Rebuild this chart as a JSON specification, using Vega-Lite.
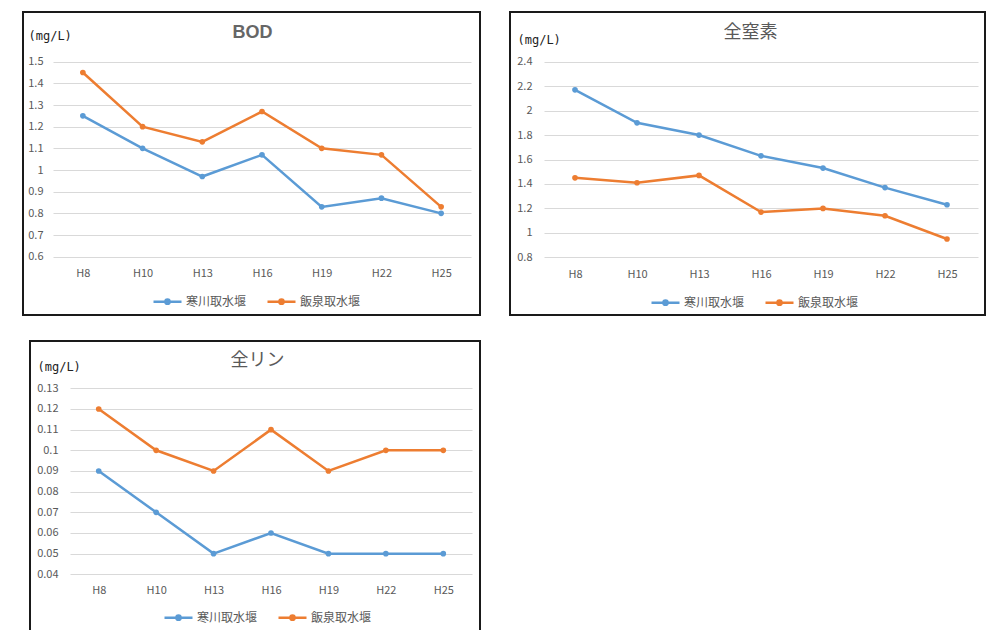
{
  "$schema": "https://vega.github.io/schema/vega-lite/v6.json",
  "background": "white",
  "padding": {"left": 22, "top": 11, "right": 0, "bottom": 0},
  "data": {
    "values": [
      {"item": "BOD", "year": "H8", "site": "寒川取水堰", "value": 1.25},
      {"item": "BOD", "year": "H10", "site": "寒川取水堰", "value": 1.10},
      {"item": "BOD", "year": "H13", "site": "寒川取水堰", "value": 0.97},
      {"item": "BOD", "year": "H16", "site": "寒川取水堰", "value": 1.07},
      {"item": "BOD", "year": "H19", "site": "寒川取水堰", "value": 0.83},
      {"item": "BOD", "year": "H22", "site": "寒川取水堰", "value": 0.87},
      {"item": "BOD", "year": "H25", "site": "寒川取水堰", "value": 0.80},
      {"item": "BOD", "year": "H8", "site": "飯泉取水堰", "value": 1.45},
      {"item": "BOD", "year": "H10", "site": "飯泉取水堰", "value": 1.20},
      {"item": "BOD", "year": "H13", "site": "飯泉取水堰", "value": 1.13},
      {"item": "BOD", "year": "H16", "site": "飯泉取水堰", "value": 1.27},
      {"item": "BOD", "year": "H19", "site": "飯泉取水堰", "value": 1.10},
      {"item": "BOD", "year": "H22", "site": "飯泉取水堰", "value": 1.07},
      {"item": "BOD", "year": "H25", "site": "飯泉取水堰", "value": 0.83},
      {"item": "全窒素", "year": "H8", "site": "寒川取水堰", "value": 2.17},
      {"item": "全窒素", "year": "H10", "site": "寒川取水堰", "value": 1.90},
      {"item": "全窒素", "year": "H13", "site": "寒川取水堰", "value": 1.80},
      {"item": "全窒素", "year": "H16", "site": "寒川取水堰", "value": 1.63},
      {"item": "全窒素", "year": "H19", "site": "寒川取水堰", "value": 1.53},
      {"item": "全窒素", "year": "H22", "site": "寒川取水堰", "value": 1.37},
      {"item": "全窒素", "year": "H25", "site": "寒川取水堰", "value": 1.23},
      {"item": "全窒素", "year": "H8", "site": "飯泉取水堰", "value": 1.45},
      {"item": "全窒素", "year": "H10", "site": "飯泉取水堰", "value": 1.41},
      {"item": "全窒素", "year": "H13", "site": "飯泉取水堰", "value": 1.47},
      {"item": "全窒素", "year": "H16", "site": "飯泉取水堰", "value": 1.17},
      {"item": "全窒素", "year": "H19", "site": "飯泉取水堰", "value": 1.20},
      {"item": "全窒素", "year": "H22", "site": "飯泉取水堰", "value": 1.14},
      {"item": "全窒素", "year": "H25", "site": "飯泉取水堰", "value": 0.95},
      {"item": "全リン", "year": "H8", "site": "寒川取水堰", "value": 0.09},
      {"item": "全リン", "year": "H10", "site": "寒川取水堰", "value": 0.07},
      {"item": "全リン", "year": "H13", "site": "寒川取水堰", "value": 0.05},
      {"item": "全リン", "year": "H16", "site": "寒川取水堰", "value": 0.06},
      {"item": "全リン", "year": "H19", "site": "寒川取水堰", "value": 0.05},
      {"item": "全リン", "year": "H22", "site": "寒川取水堰", "value": 0.05},
      {"item": "全リン", "year": "H25", "site": "寒川取水堰", "value": 0.05},
      {"item": "全リン", "year": "H8", "site": "飯泉取水堰", "value": 0.12},
      {"item": "全リン", "year": "H10", "site": "飯泉取水堰", "value": 0.10},
      {"item": "全リン", "year": "H13", "site": "飯泉取水堰", "value": 0.09},
      {"item": "全リン", "year": "H16", "site": "飯泉取水堰", "value": 0.11},
      {"item": "全リン", "year": "H19", "site": "飯泉取水堰", "value": 0.09},
      {"item": "全リン", "year": "H22", "site": "飯泉取水堰", "value": 0.10},
      {"item": "全リン", "year": "H25", "site": "飯泉取水堰", "value": 0.10}
    ]
  },
  "spacing": 24,
  "resolve": {"scale": {"color": "independent"}, "legend": {"color": "independent"}},
  "vconcat": [
    {
      "spacing": 28,
      "resolve": {"scale": {"color": "independent"}, "legend": {"color": "independent"}},
      "hconcat": [
        {
          "width": 457,
          "height": 303,
          "transform": [{"filter": "datum.item === 'BOD'"}],
          "mark": {"type": "line", "strokeWidth": 2.5, "point": {"filled": true, "size": 32}},
          "encoding": {
            "x": {
              "field": "year", "type": "ordinal", "title": "BOD",
              "sort": ["H8", "H10", "H13", "H16", "H19", "H22", "H25"],
              "scale": {"type": "point", "range": [30, 448], "padding": 0.5},
              "axis": {
                "labelPadding": -42, "titleX": 229, "titleY": -282.3,
                "titleFont": "Liberation Sans", "titleFontWeight": "bold", "titleColor": "#666666"
              }
            },
            "y": {
              "field": "value", "type": "quantitative", "title": "(mg/L)",
              "scale": {"domain": [0.6, 1.5], "range": [244.7, 49.7], "nice": false, "zero": false},
              "axis": {"values": [0.6, 0.7, 0.8, 0.9, 1, 1.1, 1.2, 1.3, 1.4, 1.5], "labelPadding": -20, "titleX": 5, "titleY": 23}
            },
            "color": {
              "field": "site", "type": "nominal",
              "scale": {"domain": ["寒川取水堰", "飯泉取水堰"], "range": ["#5b9bd5", "#ed7d31"]},
              "legend": {"title": null, "legendX": 129, "legendY": 274}
            }
          }
        },
        {
          "width": 475,
          "height": 303,
          "transform": [{"filter": "datum.item === '全窒素'"}],
          "mark": {"type": "line", "strokeWidth": 2.5, "point": {"filled": true, "size": 32}},
          "encoding": {
            "x": {
              "field": "year", "type": "ordinal", "title": "全窒素",
              "sort": ["H8", "H10", "H13", "H16", "H19", "H22", "H25"],
              "scale": {"type": "point", "range": [34, 468], "padding": 0.5},
              "axis": {"labelPadding": -41, "titleX": 240, "titleY": -282.3}
            },
            "y": {
              "field": "value", "type": "quantitative", "title": "(mg/L)",
              "scale": {"domain": [0.8, 2.4], "range": [245.3, 49.7], "nice": false, "zero": false},
              "axis": {"values": [0.8, 1, 1.2, 1.4, 1.6, 1.8, 2, 2.2, 2.4], "labelPadding": -22, "titleX": 7, "titleY": 27}
            },
            "color": {
              "field": "site", "type": "nominal",
              "scale": {"domain": ["寒川取水堰", "飯泉取水堰"], "range": ["#5b9bd5", "#ed7d31"]},
              "legend": {"title": null, "legendX": 140, "legendY": 275}
            }
          }
        }
      ]
    },
    {
      "spacing": 5,
      "resolve": {"scale": {"color": "independent"}, "legend": {"color": "independent"}},
      "hconcat": [
        {
          "width": 1,
          "height": 1,
          "view": {"stroke": null, "fill": "white"},
          "transform": [{"filter": "false"}],
          "mark": {"type": "point", "opacity": 0}
        },
        {
          "width": 450,
          "height": 300,
          "transform": [{"filter": "datum.item === '全リン'"}],
          "mark": {"type": "line", "strokeWidth": 2.5, "point": {"filled": true, "size": 32}},
          "encoding": {
            "x": {
              "field": "year", "type": "ordinal", "title": "全リン",
              "sort": ["H8", "H10", "H13", "H16", "H19", "H22", "H25"],
              "scale": {"type": "point", "range": [40, 442], "padding": 0.5},
              "axis": {"labelPadding": -51, "titleX": 227, "titleY": -281}
            },
            "y": {
              "field": "value", "type": "quantitative", "title": "(mg/L)",
              "scale": {"domain": [0.04, 0.13], "range": [233.3, 47.3], "nice": false, "zero": false},
              "axis": {
                "values": [0.04, 0.05, 0.06, 0.07, 0.08, 0.09, 0.1, 0.11, 0.12, 0.13],
                "labelPadding": -28, "titleX": 7, "titleY": 25.7
              }
            },
            "color": {
              "field": "site", "type": "nominal",
              "scale": {"domain": ["寒川取水堰", "飯泉取水堰"], "range": ["#5b9bd5", "#ed7d31"]},
              "legend": {"title": null, "legendX": 133, "legendY": 261}
            }
          }
        }
      ]
    }
  ],
  "config": {
    "font": "Noto Sans CJK JP",
    "view": {"stroke": "#1a1a1a", "strokeWidth": 2},
    "axis": {
      "ticks": false, "domain": false,
      "labelFont": "Noto Sans CJK JP", "labelColor": "#595959", "labelFontSize": 11,
      "gridColor": "#d9d9d9", "gridWidth": 1,
      "titleAngle": 0, "titleBaseline": "middle", "titleFontWeight": "normal"
    },
    "axisX": {
      "grid": false, "labelBaseline": "middle", "labelAngle": 0,
      "titleFont": "Noto Sans CJK JP", "titleFontSize": 18, "titleColor": "#595959", "titleAlign": "center"
    },
    "axisY": {
      "grid": true, "format": "~g",
      "titleFont": "DejaVu Sans Mono", "titleFontSize": 12, "titleColor": "#222222", "titleAlign": "left"
    },
    "legend": {
      "orient": "none", "direction": "horizontal",
      "symbolType": "M-1,0H1M-0.15,0A0.15,0.15 0 1,0 0.15,0A0.15,0.15 0 1,0 -0.15,0Z",
      "symbolSize": 784, "symbolStrokeWidth": 2.5,
      "labelFont": "Noto Sans CJK JP", "labelFontSize": 12, "labelColor": "#595959",
      "labelOffset": 3, "columnPadding": 15
    }
  }
}
